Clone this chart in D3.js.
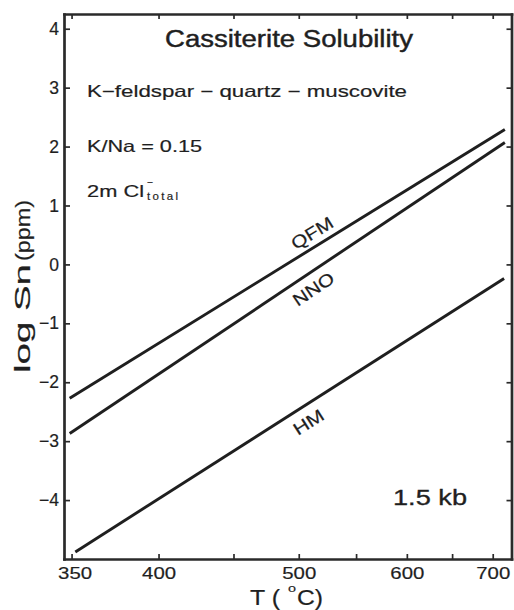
<!DOCTYPE html>
<html>
<head>
<meta charset="utf-8">
<script src="https://cdn.jsdelivr.net/npm/d3@7"></script>
<style>
  html, body { margin: 0; padding: 0; background: #fff; }
  svg { display: block; font-family: "Liberation Sans", Arial, Helvetica, sans-serif; }
  text { stroke: #1f1f1f; stroke-width: 0.2px; }
</style>
</head>
<body>
<svg id="chart" width="514" height="610"></svg>
<script>
// Temperature ticks (°C), placed on a reciprocal-temperature axis
const tempTicks = [350, 400, 450, 500, 550, 600, 650, 700];
const tempLabels = [350, 400, 500, 600, 700];
// log Sn (ppm) ticks
const logTicks = [-4, -3, -2, -1, 0, 1, 2, 3, 4];
// Axis extents
const tempDomain = [346, 725];
const logDomain = [-5, 4.25];

// Oxygen buffers and their solubility lines: [T (°C), log Sn (ppm)]
const buffers = ["QFM", "NNO", "HM"];
const qfmLine = [[349, -2.27], [716, 2.29]];
const nnoLine = [[349, -2.87], [716, 2.07]];
const hmLine  = [[352, -4.88], [715, -0.24]];
const bufferLines = [qfmLine, nnoLine, hmLine];

// Where each buffer name sits along its line (°C) and its offset from it
const labelTemps = [517, 505, 501];
const labelOffsets = [-7, 21.5, 22];
const labelWidths = [46, 46, 33];

const svg = d3.select("#chart");
const ink = "#1f1f1f";

const invT = t => 1000 / (t + 273.15);          // 1000/T(K)
const x = d3.scaleLinear().domain(tempDomain.map(invT)).range([64, 511.5]);
const y = d3.scaleLinear().domain(logDomain).range([559, 14]);
const px = t => x(invT(t));

// ---- axes / frame ----
const fmtT = u => {
  const t = Math.round(1000 / u - 273.15);
  return tempLabels.includes(t) ? String(t) : "";
};

const gBottom = svg.append("g").attr("transform", "translate(0,559)")
  .call(d3.axisBottom(x).tickValues(tempTicks.map(invT)).tickFormat(fmtT)
        .tickSize(-5).tickSizeOuter(0).tickPadding(8.5));
const gTop = svg.append("g").attr("transform", "translate(0,14)")
  .call(d3.axisTop(x).tickValues(tempTicks.map(invT)).tickFormat("")
        .tickSize(-5).tickSizeOuter(0));
const gLeft = svg.append("g").attr("transform", "translate(64,0)")
  .call(d3.axisLeft(y).tickValues(logTicks).tickFormat(d3.format("d"))
        .tickSize(-6).tickSizeOuter(0).tickPadding(5));
const gRight = svg.append("g").attr("transform", "translate(511.5,0)")
  .call(d3.axisRight(y).tickValues(logTicks).tickFormat("")
        .tickSize(-5).tickSizeOuter(0));

[gBottom, gTop, gLeft, gRight].forEach(g => {
  g.select(".domain").attr("stroke", "#2a2a2a").attr("stroke-width", 2.7)
    .attr("stroke-linecap", "square");
  g.selectAll(".tick line").attr("stroke", "#2a2a2a").attr("stroke-width", 1.7);
  g.selectAll("text").attr("fill", ink).attr("font-family", null);
});
gBottom.selectAll("text").attr("font-size", 16.5)
  .each(function () {
    if (!this.textContent) return;
    const s = d3.select(this).attr("textLength", 34).attr("lengthAdjust", "spacingAndGlyphs");
    // first label sits just clear of the left frame
    if (this.textContent === String(tempLabels[0])) s.attr("dx", 3);
  });
gLeft.selectAll("text").attr("font-size", 17.5);

// ---- buffer lines ----
const lineGen = d3.line().x(d => px(d[0])).y(d => y(d[1]));
svg.append("g").selectAll("path").data(bufferLines).join("path")
  .attr("d", lineGen)
  .attr("fill", "none")
  .attr("stroke", ink)
  .attr("stroke-width", 2.9);

// buffer names, rotated along their lines
buffers.forEach((name, i) => {
  const [a, b] = bufferLines[i];
  const t = labelTemps[i];
  const f = (invT(t) - invT(a[0])) / (invT(b[0]) - invT(a[0]));
  const v = a[1] + f * (b[1] - a[1]);
  const ang = Math.atan2(y(b[1]) - y(a[1]), px(b[0]) - px(a[0])) * 180 / Math.PI;
  svg.append("text")
    .attr("transform", `translate(${px(t)},${y(v)}) rotate(${ang})`)
    .attr("y", labelOffsets[i])
    .attr("text-anchor", "middle")
    .attr("font-size", 17.5)
    .attr("textLength", labelWidths[i])
    .attr("lengthAdjust", "spacingAndGlyphs")
    .attr("fill", ink)
    .text(name);
});

// ---- annotations ----
function label(str, xp, yp, size, len, adjust) {
  const t = svg.append("text").attr("x", xp).attr("y", yp)
    .attr("font-size", size).attr("fill", ink).text(str);
  if (len) t.attr("textLength", len).attr("lengthAdjust", adjust || "spacingAndGlyphs");
  return t;
}

label("Cassiterite Solubility", 165, 47, 23.5, 248).style("stroke-width", "0.45px");
label("K\u2212feldspar \u2212 quartz \u2212 muscovite", 87, 97, 16.5, 320);
label("K/Na = 0.15", 87, 152, 16.5, 115);
label("2m Cl", 87, 197, 16.5, 57);
label("\u2212", 147, 186, 11, 6);
label("total", 147, 200, 11.5, 31, "spacing");
label("1.5 kb", 393, 505, 22.5, 74).style("stroke-width", "0.35px");

// x-axis title: T (°C)
label("T (", 250, 605, 21.5, 30);
label("o", 288, 592, 11.5, 8);
label("C)", 297, 605, 21.5, 26);

// y-axis title: log Sn(ppm)
const yt = svg.append("g").attr("transform", "translate(30,373) rotate(-90)");
yt.append("text").attr("x", 0).attr("font-size", 22).attr("fill", ink)
  .attr("textLength", 109).attr("lengthAdjust", "spacingAndGlyphs").text("log Sn");
yt.append("text").attr("x", 112).attr("font-size", 21).attr("fill", ink)
  .attr("textLength", 61).attr("lengthAdjust", "spacingAndGlyphs").text("(ppm)");
</script>
</body>
</html>
